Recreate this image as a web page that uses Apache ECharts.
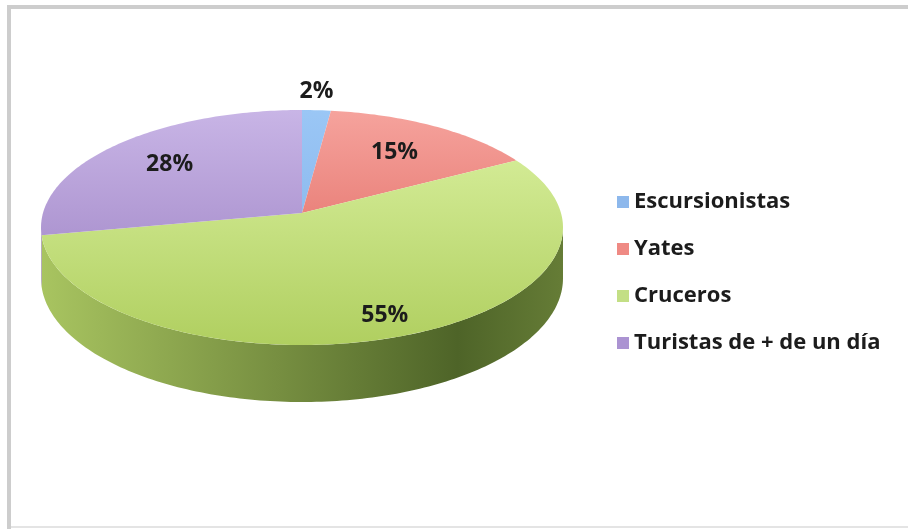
<!DOCTYPE html>
<html>
<head>
<meta charset="utf-8">
<script src="https://cdn.jsdelivr.net/npm/echarts@6/dist/echarts.min.js"></script>
<style>
  html, body { margin: 0; padding: 0; background: #ffffff; }
  #chart { width: 908px; height: 529px; }
</style>
</head>
<body>
<div id="chart"></div>
<script>
// datos del gráfico
const categories = ['Escursionistas', 'Yates', 'Cruceros', 'Turistas de + de un día'];
const values = [2, 15, 55, 28];

// colores: leyenda, cara superior (clara, oscura), lateral (clara, oscura)
const legendColors = ['#8db8ec', '#ef8a84', '#c3df85', '#ab93d2'];
const topColors = [
  ['#9cc8f6', '#7eade8'],
  ['#f7a7a1', '#dc5b53'],
  ['#def4a6', '#b0cf60'],
  ['#cbb8e8', '#977bbf']
];
const sideColors = [
  ['#6f9bd0', '#35629a'],
  ['#c96a64', '#8a2f2a'],
  ['#a8c460', '#4e6428'],
  ['#9a80bf', '#5c4384']
];
// distancia relativa de cada etiqueta al centro (layout)
const labelRadius = [1.0, 0.68, 0.85, 0.7];

// geometria de la tarta 3D con perspectiva (layout)
const cx = 302, cy = 213;     // centro proyectado
const R = 259, RY = 115.7;    // radios
const K = 0.1234;             // perspectiva
const DEPTH = 50;
const DEG = Math.PI / 180;

const total = values.reduce((s, v) => s + v, 0);
const starts = [];
let acc = 0;
values.forEach(v => { starts.push(acc / total * 360); acc += v; });

// angulo en grados, sentido horario desde arriba
function project(a, r) {
  const u = Math.sin(a * DEG) * r;
  const w = -Math.cos(a * DEG) * r;
  const s = 1 / (1 - K * w);
  return [cx + R * u * s, cy + RY * w * s, s];
}

function renderSlice(idx) {
  return function (params, api) {
    const v = api.value(0);
    const a0 = starts[idx];
    const a1 = a0 + v / total * 360;
    const children = [];

    // lateral visible (parte frontal, hasta la silueta)
    const s = Math.max(a0, 97), e = Math.min(a1, 263);
    if (e > s) {
      const pts = [];
      for (let a = s; a < e; a += 1) pts.push(project(a, 1).slice(0, 2));
      pts.push(project(e, 1).slice(0, 2));
      for (let a = e; a > s; a -= 1) {
        const p = project(a, 1);
        pts.push([p[0], p[1] + DEPTH * p[2]]);
      }
      const p = project(s, 1);
      pts.push([p[0], p[1] + DEPTH * p[2]]);
      const c0 = sideColors[idx][0], c1 = sideColors[idx][1];
      children.push({
        type: 'polygon',
        z2: 1,
        shape: { points: pts },
        style: {
          fill: new echarts.graphic.LinearGradient(cx - R, 0, cx + R, 0, [
            { offset: 0, color: c0 },
            { offset: 0.45, color: echarts.color.lerp(0.55, [c0, c1]) },
            { offset: 0.8, color: c1 },
            { offset: 1, color: echarts.color.lerp(0.25, [c1, c0]) }
          ], true)
        }
      });
    }

    // cara superior
    const top = [[cx, cy]];
    for (let a = a0; a < a1; a += 1) top.push(project(a, 1).slice(0, 2));
    top.push(project(a1, 1).slice(0, 2));
    children.push({
      type: 'polygon',
      z2: 10,
      shape: { points: top },
      style: {
        fill: new echarts.graphic.LinearGradient(0, cy - RY, 0, cy + RY * 1.14, [
          { offset: 0, color: topColors[idx][0] },
          { offset: 1, color: topColors[idx][1] }
        ], true)
      }
    });

    // etiqueta de porcentaje
    const mid = (a0 + a1) / 2;
    const lp = project(mid, labelRadius[idx]);
    const outside = v / total < 0.05;
    children.push({
      type: 'text',
      z2: 20,
      style: {
        x: lp[0],
        y: outside ? lp[1] - 19 : lp[1],
        text: Math.round(v / total * 100) + '%',
        fill: '#1c1c1c',
        font: 'bold 23px "Open Sans", sans-serif',
        align: 'center',
        verticalAlign: 'middle'
      }
    });

    return { type: 'group', children: children };
  };
}

const chart = echarts.init(document.getElementById('chart'));
const option = {
  animation: false,
  backgroundColor: '#ffffff',
  legend: {
    orient: 'vertical',
    left: 612,
    top: 185,
    itemWidth: 12,
    itemHeight: 12,
    itemGap: 23,
    icon: 'rect',
    data: categories,
    textStyle: {
      color: '#1c1c1c',
      fontSize: 22,
      fontWeight: 'bold',
      fontFamily: '"Open Sans", sans-serif',
      lineHeight: 24
    }
  },
  graphic: [
    { type: 'rect', shape: { x: 7, y: 5, width: 901, height: 4 }, style: { fill: '#cdcdcd' } },
    { type: 'rect', shape: { x: 7, y: 5, width: 4, height: 524 }, style: { fill: '#cdcdcd' } },
    { type: 'rect', shape: { x: 11, y: 526, width: 897, height: 2 }, style: { fill: '#e4e4e4' } }
  ],
  series: categories.map((name, i) => ({
    type: 'custom',
    name: name,
    coordinateSystem: 'none',
    itemStyle: { color: legendColors[i] },
    renderItem: renderSlice(i),
    data: [[values[i]]]
  }))
};
chart.setOption(option);
</script>
</body>
</html>
